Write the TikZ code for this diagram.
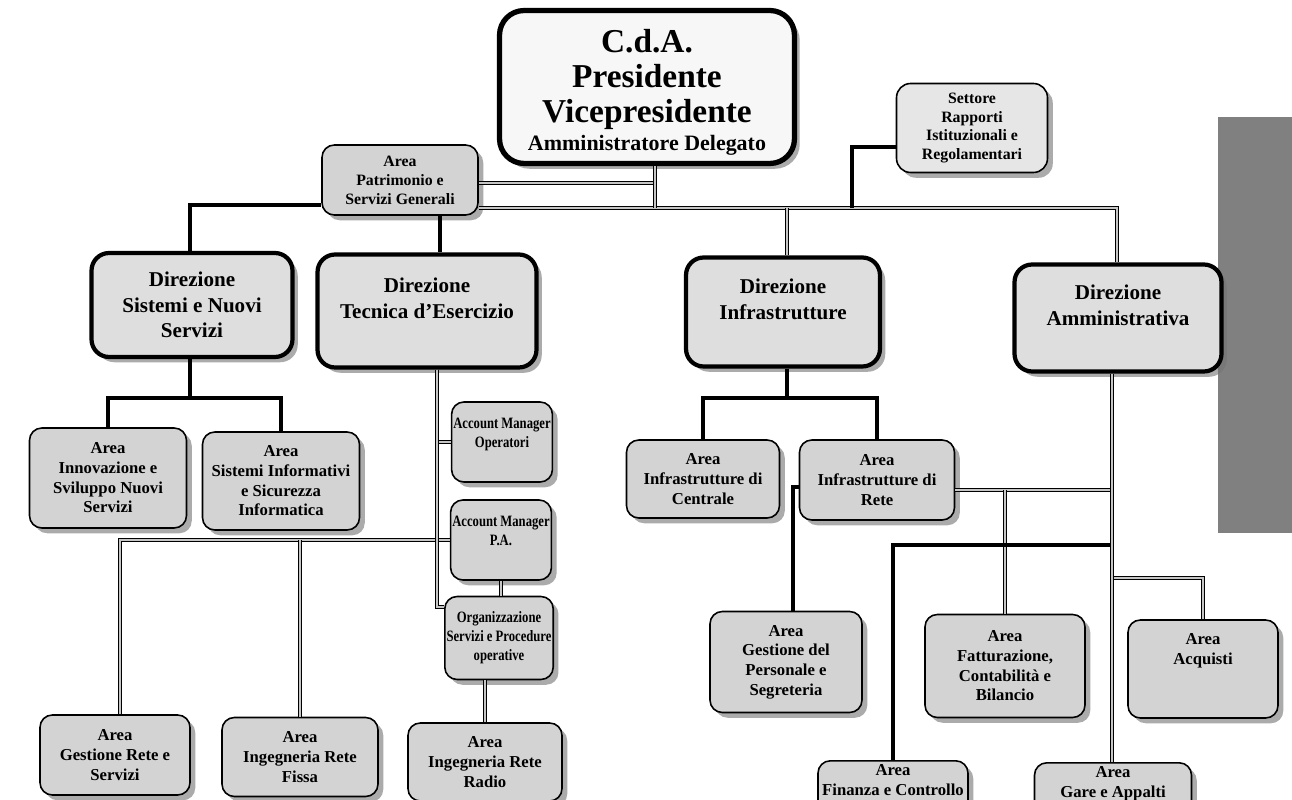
\documentclass[tikz,border=0pt]{standalone}
\usepackage{fontspec}
\setmainfont{Liberation Serif}
\newfontfamily\strettafont{Liberation Serif}[FakeStretch=0.8]
\usetikzlibrary{shadows}

\definecolor{grigioarea}{HTML}{D3D3D3}
\definecolor{grigiodir}{HTML}{DEDEDE}
\definecolor{grigioset}{HTML}{E6E6E6}
\definecolor{biancocda}{HTML}{F7F7F7}
\definecolor{grigiobarra}{HTML}{808080}

\begin{document}
\begin{tikzpicture}[x=0.02cm,y=-0.02cm]
  \tikzset{box/.style={draw=black,line width=0.9pt,rounded corners=7pt,fill=grigioarea,align=center,
             inner sep=2pt,font=\fontsize{9.5}{11.2}\selectfont\bfseries,
             drop shadow={shadow xshift=3pt,shadow yshift=-3pt,fill=black!55,opacity=0.6}},
           area/.style={box},
           stretta/.style={box,inner sep=1pt,font=\strettafont\fontsize{9}{10.8}\selectfont\bfseries},
           direz/.style={box,line width=2.4pt,rounded corners=10pt,fill=grigiodir,
             font=\fontsize{12}{14.5}\selectfont\bfseries},
           vertice/.style={box,line width=3pt,rounded corners=14pt,fill=biancocda,
             font=\fontsize{19}{20}\selectfont\bfseries},
           settore/.style={box,fill=grigioset,rounded corners=8pt,font=\fontsize{9}{10.6}\selectfont\bfseries},
           dbl/.style={draw=black,line width=0.5pt,double=gray!45,double distance=1.6pt},
           nero/.style={draw=black,line width=2.4pt},
           nerosottile/.style={draw=black,line width=1.8pt}}
  \useasboundingbox (0,0) rectangle (1292,800);

  \fill[grigiobarra] (1218,117) rectangle (1292,533);

  % vertice e staff
  \node[vertice,minimum width=5.9cm,minimum height=3.06cm] (cda) at (647,87)
    {\rule{0pt}{19pt}C.d.A.\\Presidente\\Vicepresidente\\[-4pt]{\fontsize{12.5}{15}\selectfont Amministratore Delegato}};
  \node[settore,minimum width=3.02cm,minimum height=1.78cm] (settore) at (972,128)
    {Settore\\Rapporti\\Istituzionali e\\Regolamentari};
  \node[area,font=\fontsize{9}{10.8}\selectfont\bfseries,minimum width=3.12cm,minimum height=1.4cm] (patrimonio) at (400,180)
    {Area\\Patrimonio e\\Servizi Generali};

  % direzioni
  \node[direz,minimum width=4.02cm,minimum height=2.08cm] (dirSistemi) at (192,305)
    {Direzione\\Sistemi e Nuovi\\Servizi};
  \node[direz,minimum width=4.38cm,minimum height=2.26cm] (dirTecnica) at (427,311)
    {Direzione\\Tecnica d’Esercizio\\~};
  \node[direz,minimum width=3.88cm,minimum height=2.18cm] (dirInfra) at (783,312)
    {Direzione\\Infrastrutture\\~};
  \node[direz,minimum width=4.14cm,minimum height=2.14cm] (dirAmmin) at (1118,318)
    {Direzione\\Amministrativa\\~};

  % aree
  \node[area,minimum width=3.14cm,minimum height=2cm] (innovazione) at (108,478)
    {Area\\Innovazione e\\Sviluppo Nuovi\\Servizi};
  \node[area,minimum width=3.14cm,minimum height=1.96cm] (sistInfo) at (281,481)
    {Area\\Sistemi Informativi\\e Sicurezza\\Informatica};
  \node[stretta,minimum width=1.98cm,minimum height=1.6cm] (amOperatori) at (502,442)
    {Account Manager\\Operatori\\~};
  \node[stretta,minimum width=1.96cm,minimum height=1.6cm] (amPA) at (501,540)
    {Account Manager\\P.A.\\~};
  \node[stretta,minimum width=1.96cm,minimum height=1.66cm] (organizz) at (499,638)
    {Organizzazione\\Servizi e Procedure\\operative};
  \node[area,minimum width=3cm,minimum height=1.6cm] (gestRete) at (115,755)
    {Area\\Gestione Rete e\\Servizi};
  \node[area,minimum width=3.12cm,minimum height=1.58cm] (ingFissa) at (300,757)
    {Area\\Ingegneria Rete\\Fissa};
  \node[area,minimum width=3.08cm,minimum height=1.56cm] (ingRadio) at (485,762)
    {Area\\Ingegneria Rete\\Radio};
  \node[area,minimum width=3.06cm,minimum height=1.56cm] (infCentrale) at (703,479)
    {Area\\Infrastrutture di\\Centrale};
  \node[area,minimum width=3.1cm,minimum height=1.6cm] (infRete) at (877,480)
    {Area\\Infrastrutture di\\Rete};
  \node[area,minimum width=3.04cm,minimum height=2.02cm] (gestPers) at (786,662)
    {Area\\Gestione del\\Personale e\\Segreteria};
  \node[area,minimum width=3.2cm,minimum height=2.06cm] (fatturaz) at (1005,666)
    {Area\\Fatturazione,\\Contabilità e\\Bilancio};
  \node[area,minimum width=3cm,minimum height=1.96cm] (acquisti) at (1203,669)
    {Area\\Acquisti\\~\\~};
  \node[area,anchor=north,minimum width=3cm,minimum height=1.1cm] (finanza) at (893,760)
    {Area\\Finanza e Controllo\\~};
  \node[area,anchor=north,minimum width=3.14cm,minimum height=1.1cm] (gare) at (1113,762)
    {Area\\Gare e Appalti\\~};

  % nodi di raccordo
  \coordinate (jCda) at (655,208);
  \coordinate (jPat) at (655,183);
  \coordinate (jAmm) at (1117,208);
  \coordinate (jInf) at (787,208);
  \coordinate (jSet) at (852,208);
  \coordinate (jSetTop) at (852,147);
  \coordinate (jSis) at (190,205);
  \coordinate (jTec) at (440,230);
  \coordinate (jS) at (190,398);
  \coordinate (jT) at (437,607);
  \coordinate (jG) at (120,540);
  \coordinate (jI) at (787,398);
  \coordinate (jP) at (793,487);
  \coordinate (jA1) at (1112,490);
  \coordinate (jA2) at (1112,545);
  \coordinate (jA3) at (1112,578);

  % collegamenti in alto
  \draw[dbl] (patrimonio.east |- jPat) -- (jPat);
  \draw[dbl] (patrimonio.east |- jCda) -- (jAmm) -- (jAmm |- dirAmmin.north);
  \draw[dbl] (cda.south -| jCda) -- (jCda);
  \draw[dbl] (jInf) -- (jInf |- dirInfra.north);
  \draw[nero] (settore.west |- jSetTop) -- (jSetTop) -- (jSet);
  \draw[nero] (patrimonio.west |- jSis) -- (jSis) -- (jSis |- dirSistemi.north);
  \draw[nero] (patrimonio.south -| jTec) -- (jTec |- dirTecnica.north);

  % direzione sistemi
  \draw[nero] (dirSistemi.south -| jS) -- (jS);
  \draw[nero] (innovazione.north) |- (jS);
  \draw[nero] (sistInfo.north) |- (jS);

  % direzione tecnica
  \draw[dbl] (amPA.west) -- (jG) -- (jG |- gestRete.north);
  \draw[dbl] (ingFissa.north) -- (ingFissa.north |- jG);
  \draw[dbl] (amOperatori.west) -- (amOperatori.west -| jT);
  \draw[dbl] (dirTecnica.south -| jT) -- (jT) -- (jT -| organizz.west);
  \draw[dbl] (amPA.south) -- (amPA.south |- organizz.north);
  \draw[dbl] (ingRadio.north) -- (ingRadio.north |- organizz.south);

  % direzione infrastrutture
  \draw[nero] (dirInfra.south -| jI) -- (jI);
  \draw[nero] (infCentrale.north) |- (jI);
  \draw[nero] (infRete.north) |- (jI);
  \draw[nerosottile] (infRete.west |- jP) -- (jP) -- (jP |- gestPers.north);

  % direzione amministrativa
  \draw[dbl] (infRete.east |- jA1) -- (jA1);
  \draw[dbl] (fatturaz.north) -- (fatturaz.north |- jA1);
  \draw[nero] (finanza.north) |- (jA2);
  \draw[dbl] (acquisti.north) |- (jA3);
  \draw[dbl] (dirAmmin.south -| jA1) -- (jA1 |- gare.north);
\end{tikzpicture}
\end{document}
